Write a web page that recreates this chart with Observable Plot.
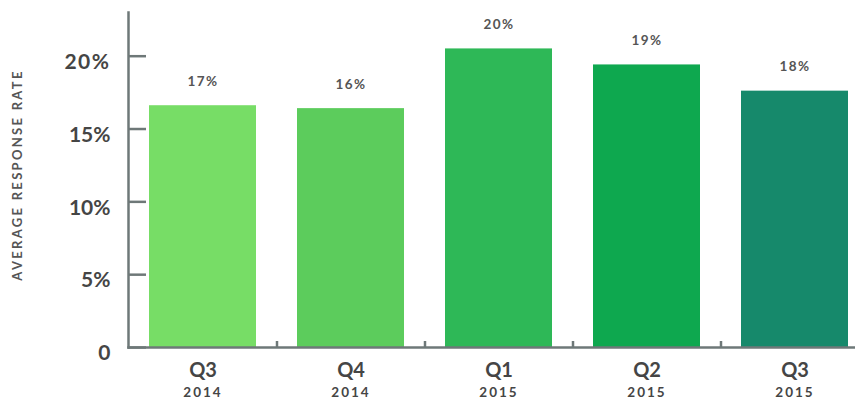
<!DOCTYPE html>
<html>
<head>
<meta charset="utf-8">
<script src="https://cdn.jsdelivr.net/npm/d3@7"></script>
<script src="https://cdn.jsdelivr.net/npm/@observablehq/plot@0.6"></script>
<style>
  html, body { margin: 0; padding: 0; background: white; }
</style>
</head>
<body>
<div id="chart"></div>
<script>
const quarters = ["Q3", "Q4", "Q1", "Q2", "Q3"];
const years = ["2014", "2014", "2015", "2015", "2015"];
const values = [16.6, 16.4, 20.5, 19.4, 17.6];
const valueLabels = ["17%", "16%", "20%", "19%", "18%"];
const barColors = ["#77dd66", "#5ccc5c", "#2eb857", "#0ea84f", "#16896b"];
const yTicks = [0, 5, 10, 15, 20];
const yTitle = "AVERAGE RESPONSE RATE";

const keys = quarters.map((q, i) => q + " " + years[i]);
const data = keys.map((k, i) => ({key: k, quarter: quarters[i], year: years[i], value: values[i], label: valueLabels[i]}));

const axisColor = "#6e7878";
const textColor = "#454545";

const chart = Plot.plot({
  width: 855,
  height: 400,
  marginLeft: 128,
  marginRight: 0,
  marginTop: 12,
  marginBottom: 53,
  style: {fontFamily: "Lato, 'Open Sans', sans-serif", color: textColor, background: "white", overflow: "hidden"},
  x: {domain: keys, range: [128, 868], paddingInner: 0.28, paddingOuter: 0.14, axis: null},
  y: {domain: [0, 23], range: [347, 12], axis: null},
  color: {domain: keys, range: barColors},
  marks: [
    Plot.barY(data, {x: "key", y: "value", fill: "key"}),
    Plot.ruleY(yTicks, {y: d => d, insetRight: 709, stroke: axisColor, strokeWidth: 2.5}),
    Plot.frame({anchor: "left", stroke: axisColor, strokeWidth: 2.5}),
    Plot.frame({anchor: "bottom", stroke: axisColor, strokeWidth: 2.5}),
    Plot.axisY({
      ticks: yTicks,
      label: null,
      tickSize: 0,
      tickPadding: 18,
      tickFormat: d => d === 0 ? "0" : d + "%",
      fontSize: 21,
      fontWeight: 700,
      fill: textColor,
      dy: 6
    }),
    Plot.ruleX(keys.slice(0, 4), {x: d => d, dx: 74, insetTop: 329, stroke: axisColor, strokeWidth: 2.5}),
    Plot.text(data, {x: "key", y: 0, text: "quarter", dy: 23, fontSize: 20, fontWeight: 700, fill: textColor}),
    Plot.text(data, {x: "key", y: 0, text: "year", dy: 45, fontSize: 13.5, fontWeight: 700, fill: textColor}),
    Plot.text(data, {x: "key", y: "value", text: "label", dy: -24, fontSize: 13.5, fontWeight: 700, fill: "#555"}),
    Plot.text([yTitle], {frameAnchor: "left", textAnchor: "middle", text: d => d, rotate: -90, dx: -111, dy: -5, fontSize: 13, fontWeight: 700, fill: "#555"})
  ]
});

d3.select(chart).selectAll("text").each(function () {
  const t = this.textContent;
  if (t === yTitle) this.setAttribute("letter-spacing", "2.3px");
  else if (years.includes(t)) this.setAttribute("letter-spacing", "2px");
  else if (valueLabels.includes(t)) this.setAttribute("letter-spacing", "1.5px");
});

document.getElementById("chart").appendChild(chart);
</script>
</body>
</html>
